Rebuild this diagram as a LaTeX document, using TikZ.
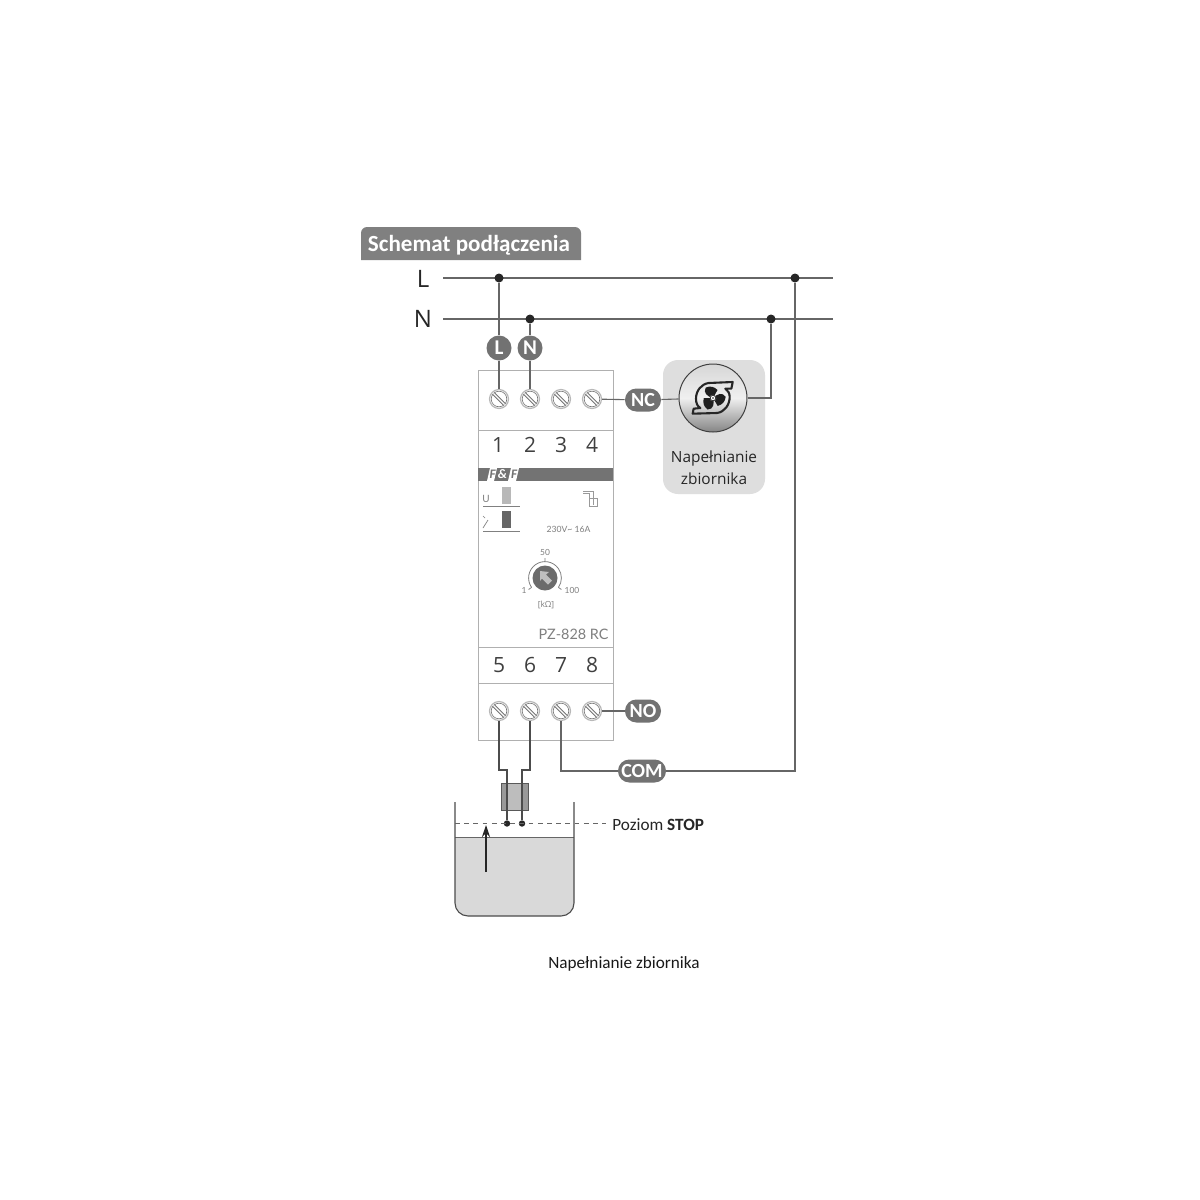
\documentclass[tikz,border=0pt]{standalone}
\usepackage{fontspec}
\setmainfont{Carlito}
\newfontfamily\lato{Lato}
\newfontfamily\osans{Open Sans}
\usetikzlibrary{arrows.meta}
\definecolor{wirec}{HTML}{666666}
\definecolor{badgec}{HTML}{727272}
\definecolor{titlec}{HTML}{808080}
\definecolor{modc}{HTML}{B0B0B0}
\definecolor{txtc}{HTML}{7F7F7F}
\newcommand{\fs}[1]{\fontsize{#1}{#1}\selectfont}
\tikzset{
 x=0.5pt,y=-0.5pt,
 wire/.style={draw=wirec,line width=0.55pt},
 dotn/.style={circle,fill=black!85,inner sep=0,minimum size=4.5pt},
 screw/.style={circle,draw=black!28,line width=0.6pt,fill=white,inner sep=0,minimum size=9.5pt},
 roundbadge/.style={circle,fill=badgec,text=white,inner sep=0,minimum size=12.5pt,font=\bfseries\fs{10.5}},
 pill/.style={rounded corners=5.7pt,fill=badgec,text=white,inner sep=0,minimum height=11.5pt,font=\bfseries\fs{10}},
 numl/.style={text=black!75,inner sep=0,font=\osans\fs{10.5}},
 modtxt/.style={text=txtc,inner sep=0},
 modline/.style={draw=modc,line width=0.5pt},
}
\begin{document}
\begin{tikzpicture}
\useasboundingbox (0,0) rectangle (1200,1200);
\fill[white] (0,0) rectangle (1200,1200);
% title
\path[fill=titlec,rounded corners=3pt] (361,260) [sharp corners] -- (361,240) [rounded corners=3pt] -- (361,227) -- (581,227) [sharp corners] -- (581,260) -- cycle;
\node[text=white,inner sep=0,font=\bfseries\fs{11.55}] (title) at (469,245.5) {Schemat podłączenia};
\node[inner sep=0,text=black!85,font=\osans\fs{12}] (tL) at (423,279) {L};
\node[inner sep=0,text=black!85,font=\osans\fs{12}] (tN) at (423,319) {N};
% gray load box
\fill[black!13,rounded corners=7.5pt] (663,360) rectangle (765,494);
% module body
\draw[modline,fill=white] (478,370) rectangle (613,740);
\draw[modline] (478,430) -- (613,430) (478,647) -- (613,647) (478,683) -- (613,683);
% bus
\coordinate (Ls) at (443,278); \coordinate (Le) at (833,278);
\coordinate (Ns) at (443,319); \coordinate (Ne) at (833,319);
\draw[wire] (Ls) -- (Le);
\draw[wire] (Ns) -- (Ne);
\node[dotn] (d1) at (499,278) {};
\node[dotn] (d2) at (530,319) {};
\node[dotn] (d3) at (795,278) {};
\node[dotn] (d4) at (771,319) {};
\node[roundbadge] (bL) at (499,348) {L};
\node[roundbadge] (bN) at (530,348) {N};
% screws
\foreach \n/\x/\y in {s1/499/399,s2/530/399,s3/561/399,s4/592/399,s5/499/711,s6/530/711,s7/561/711,s8/592/711}{
 \node[screw] (\n) at (\x,\y) {};
 \draw[black!55,line width=0.3pt] (\x,\y) circle[radius=3.9pt];
 \draw[black!55,line width=1.7pt] ([shift={(135:3.9pt)}]\n.center) -- ([shift={(-45:3.9pt)}]\n.center);
 \draw[white,line width=0.7pt] ([shift={(135:3.9pt)}]\n.center) -- ([shift={(-45:3.9pt)}]\n.center);
}
% numbers
\foreach \t/\x/\y in {1/498/445,2/530/445,3/561/445,4/592/445,5/499/665,6/530/665,7/561/665,8/592/665}{
 \node[numl] (n\t) at (\x,\y) {\t};
}
% band
\fill[black!55] (478,468) rectangle (613,481);
\fill[white] (487,481) -- (490,468) -- (497,468) -- (494,481) -- cycle;
\fill[white] (508,481) -- (511,468) -- (519,468) -- (516,481) -- cycle;
\node[inner sep=0,text=black!55,font=\bfseries\itshape\fs{6.5}] (lg1) at (492.5,474.5) {F};
\node[inner sep=0,text=white,font=\bfseries\itshape\fs{6.5}] (lg2) at (502.5,474.5) {\&};
\node[inner sep=0,text=black!55,font=\bfseries\itshape\fs{6.5}] (lg3) at (514,474.5) {F};
% indicators
\node[modtxt,font=\lato\fs{5}] (tU) at (486,499) {U};
\draw[draw=black!50,line width=0.4pt] (483,506) -- (520,506) (483,531) -- (520,531);
\fill[black!28] (502,487) rectangle (511,504);
\fill[black!60] (502,511) rectangle (511,528);
\draw[txtc,line width=0.35pt] (483,516) -- (485,518) (483,528) -- (488,520);
\draw[black!40,line width=0.4pt] (583,491) -- (593,491) -- (593,505) (583,493.5) -- (589,493.5) -- (589,506) -- (597,506) -- (597,498) -- (589,498);
\node[modtxt,font=\lato\fs{4.3}] (rate) at (568.5,529) {230V{\char`\~} 16A};
% knob
\node[circle,fill=black!58,inner sep=0,minimum size=12.5pt] (knob) at (545,578) {};
\draw[txtc,line width=0.4pt] ([shift={(215:8.2pt)}]knob.center) arc[start angle=215,end angle=-35,radius=8.2pt];
\draw[txtc,line width=0.4pt] ([shift={(90:8.2pt)}]knob.center) -- ([shift={(90:10pt)}]knob.center)
 ([shift={(215:8.2pt)}]knob.center) -- ([shift={(215:10pt)}]knob.center)
 ([shift={(-35:8.2pt)}]knob.center) -- ([shift={(-35:10pt)}]knob.center);
\fill[black!25] (540,571) -- (549,572) -- (546,574.5) -- (552,580.5) -- (548,584.5) -- (542,578.5) -- (540,581) -- cycle;
\node[modtxt,font=\lato\fs{4.2}] (k50) at (545,552) {50};
\node[modtxt,font=\lato\fs{4.2}] (k1) at (524,590) {1};
\node[modtxt,font=\lato\fs{4.2}] (k100) at (572,590) {100};
\node[modtxt,font=\osans\fs{4.2}] (kOhm) at (546,605) {[kΩ]};
\node[modtxt,font=\lato\fs{7.2}] (model) at (573.5,634) {PZ-828 RC};
% fan
\node[circle,draw=black!75,line width=0.5pt,inner sep=0,minimum size=34pt,top color=black!16,bottom color=black!48,middle color=black!6] (fan) at (713,398) {};
\begin{scope}[shift={(fan.center)}]
 \draw[black!85,line width=1.05pt,line join=round,x=0.1667pt,y=-0.1667pt]
 (59,-48) -- (-13,-45) .. controls (-35,-42) and (-51,-22) .. (-51,2) .. controls (-51,15) and (-47,25) .. (-38,30) -- (-58,32) -- (-61,47) -- (12,45) .. controls (35,42) and (50,20) .. (50,-3) .. controls (50,-14) and (45,-23) .. (37,-28) -- (55,-28) -- cycle;
 \foreach \a in {-25,95,215}{
  \fill[black!88,rotate=\a] (0,0) .. controls (1pt,2.8pt) and (3pt,4.8pt) .. (5.5pt,3.2pt) .. controls (6.3pt,1pt) and (5.6pt,-1.2pt) .. (3.8pt,-2.6pt) -- cycle;
 }
 \fill[white] (0,0) circle[radius=1.6pt];
 \draw[black!85,line width=0.4pt] (0,0) circle[radius=1.4pt];
 \fill[black!85] (0,0) circle[radius=0.45pt];
\end{scope}
\node[inner sep=0,text=black!85,font=\osans\fs{7.7}] (ft1) at (714,458.5) {Napełnianie};
\node[inner sep=0,text=black!85,font=\osans\fs{7.7}] (ft2) at (714,479) {zbiornika};
% pills
\node[pill,minimum width=18pt] (NC) at (643,400) {NC};
\node[pill,minimum width=18pt] (NO) at (643,711) {NO};
\node[pill,minimum width=24pt] (COM) at (642,771) {COM};
% connectors
\draw[wire] (d1) -- (bL);
\draw[wire] (bL) -- (s1);
\draw[wire] (d2) -- (bN);
\draw[wire] (bN) -- (s2);
\draw[wire] (s4) -- (NC);
\draw[wire] (NC) -- (fan);
\draw[wire] (fan) -| (d4);
\draw[wire] (s8) -- (NO);
\draw[wire] (s7) |- (COM);
\draw[wire] (COM) -| (d3);
% sensor
\fill[black!40] (501,783) rectangle (528,810);
\fill[black!26] (508,783) rectangle (521,810);
\draw[black!65,line width=0.45pt] (501,783) rectangle (528,810);
% tank
\fill[black!15,rounded corners=6.5pt] (455,837) -- (455,916) -- (574,916) -- (574,837);
\draw[black!60,line width=0.45pt] (455,837) -- (574,837);
\draw[black!70,line width=0.55pt,rounded corners=6.5pt] (455,802) -- (455,916) -- (574,916) -- (574,802);
\node[dotn,minimum size=3.2pt] (d5) at (507,823.5) {};
\node[dotn,minimum size=3.2pt] (d6) at (522,823.5) {};
\coordinate (c5) at (507,770);
\coordinate (c6) at (522,770);
\draw[wire,draw=black!70] (s5) |- (c5) -- (d5);
\draw[wire,draw=black!70] (s6) |- (c6) -- (d6);
\coordinate (ds) at (455,823.5);
\coordinate (de) at (606,823.5);
\draw[black!60,line width=0.55pt,dash pattern=on 2.4pt off 2.2pt] (ds) -- (de);
\coordinate (a1) at (486,872);
\coordinate (a2) at (486,825);
\draw[black!85,line width=0.55pt,-{Stealth[length=6pt,width=4pt]}] (a1) -- (a2);
\node[anchor=west,inner sep=0,text=black!85,font=\fs{8.6}] (stop) at (612,825) {Poziom \textbf{STOP}};
\node[inner sep=0,text=black!90,font=\fs{8.6}] (cap) at (624,963.5) {Napełnianie zbiornika};
\end{tikzpicture}
\end{document}
